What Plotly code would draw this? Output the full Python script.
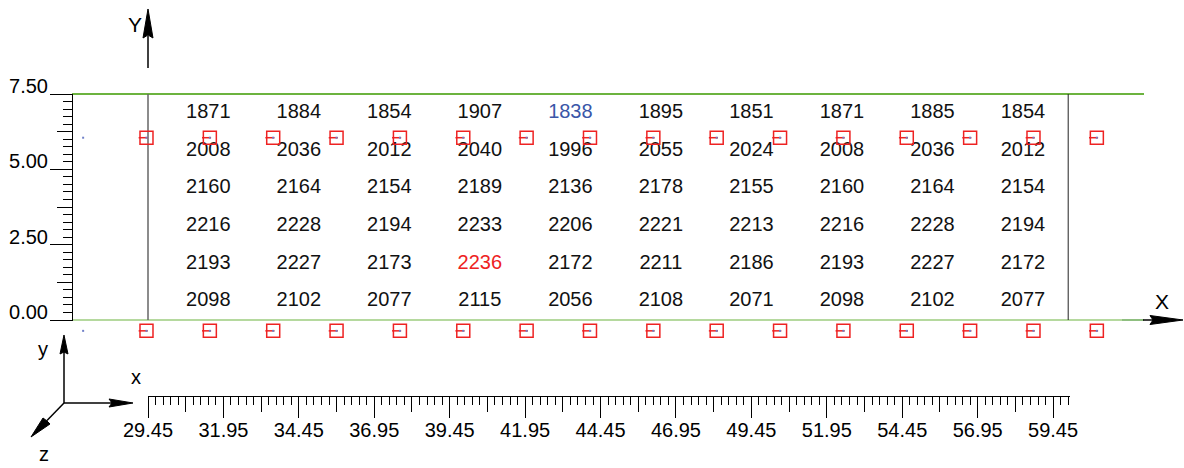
import numpy as np
import plotly.graph_objects as go

# ---------------- data ----------------
col_x = [31.45, 34.45, 37.45, 40.45, 43.45, 46.45, 49.45, 52.45, 55.45, 58.45]
row_y = [6.875, 5.625, 4.375, 3.125, 1.875, 0.625]
row_1 = [1871, 1884, 1854, 1907, 1838, 1895, 1851, 1871, 1885, 1854]
row_2 = [2008, 2036, 2012, 2040, 1996, 2055, 2024, 2008, 2036, 2012]
row_3 = [2160, 2164, 2154, 2189, 2136, 2178, 2155, 2160, 2164, 2154]
row_4 = [2216, 2228, 2194, 2233, 2206, 2221, 2213, 2216, 2228, 2194]
row_5 = [2193, 2227, 2173, 2236, 2172, 2211, 2186, 2193, 2227, 2172]
row_6 = [2098, 2102, 2077, 2115, 2056, 2108, 2071, 2098, 2102, 2077]
rows = [row_1, row_2, row_3, row_4, row_5, row_6]

marker_x = [29.4, 31.5, 33.6, 35.7, 37.8, 39.9, 42.0, 44.1, 46.2, 48.3,
            50.4, 52.5, 54.6, 56.7, 58.8, 60.9]
marker_y = [6.05, -0.36]
stray_dot_x = [27.3]

x_tick_vals = [29.45, 31.95, 34.45, 36.95, 39.45, 41.95, 44.45, 46.95,
               49.45, 51.95, 54.45, 56.95, 59.45]
x_tick_labels = ["29.45", "31.95", "34.45", "36.95", "39.45", "41.95", "44.45",
                 "46.95", "49.45", "51.95", "54.45", "56.95", "59.45"]
y_tick_vals = [0.0, 2.5, 5.0, 7.5]
y_tick_labels = ["0.00", "2.50", "5.00", "7.50"]
frame_x = [29.45, 59.95]
frame_y = [0.0, 7.5]

# ---------------- geometry ----------------
W, H = 1184, 468
SX, SY = 30.17, 30.13           # px per unit
X_REF_PX, X_REF = 148.0, 29.45  # pixel of x=29.45
Y_REF_PX = 320.0                # pixel of y=0
X0 = X_REF - X_REF_PX / SX
X1 = X0 + W / SX
Y_TOP = Y_REF_PX / SY
Y_BOT = -(H - Y_REF_PX) / SY


def px_x(px):
    return X0 + px / SX


def px_y(py):
    return (Y_REF_PX - py) / SY


def P(px, py):
    return f"{px / W:.5f},{1 - py / H:.5f}"


FONT = "Liberation Sans, Arial, sans-serif"
RED = "#ee2222"
GREEN = "#6cb33f"

fig = go.Figure()

# numbers
vals = np.array(rows)
vmin, vmax = vals.min(), vals.max()
tx, ty, tt, tc = [], [], [], []
for j, r in enumerate(rows):
    for i, v in enumerate(r):
        tx.append(col_x[i])
        ty.append(row_y[j])
        tt.append(str(v))
        tc.append("#3a56a8" if v == vmin else (RED if v == vmax else "#111111"))
fig.add_trace(go.Scatter(x=tx, y=ty, text=tt, mode="text",
                         textfont=dict(family=FONT, size=20, color=tc),
                         hoverinfo="skip", showlegend=False, cliponaxis=False))

# red boxes
bx = [x for yv in marker_y for x in marker_x]
by = [yv for yv in marker_y for x in marker_x]
fig.add_trace(go.Scatter(x=bx, y=by, mode="markers",
                         marker=dict(symbol="square-open", size=13,
                                     color=RED, line=dict(width=1.5, color=RED)),
                         hoverinfo="skip", showlegend=False))
dash_shift = 3.3 / SX
fig.add_trace(go.Scatter(x=[x - dash_shift for x in bx], y=by, mode="markers",
                         marker=dict(symbol="line-ew", size=6.5,
                                     line=dict(width=1.5, color=RED)),
                         hoverinfo="skip", showlegend=False))
dx = bx + [x for yv in marker_y for x in stray_dot_x]
dy = by + [yv for yv in marker_y for x in stray_dot_x]
fig.add_trace(go.Scatter(x=dx, y=dy, mode="markers",
                         marker=dict(symbol="square", size=2, color="#7080c8"),
                         hoverinfo="skip", showlegend=False))

# invisible traces to activate ruler axes
fig.add_trace(go.Scatter(x=[x_tick_vals[0]], y=[0], xaxis="x2", yaxis="y2",
                         mode="markers", marker=dict(size=1, opacity=0),
                         hoverinfo="skip", showlegend=False))
fig.add_trace(go.Scatter(x=[x_tick_vals[0]], y=[0], xaxis="x3", yaxis="y3",
                         mode="markers", marker=dict(size=1, opacity=0),
                         hoverinfo="skip", showlegend=False))

shapes = []
# green lines
shapes.append(dict(type="line", xref="x", yref="y", x0=px_x(72), x1=px_x(1144),
                   y0=frame_y[1], y1=frame_y[1], line=dict(color=GREEN, width=2),
                   layer="below"))
shapes.append(dict(type="line", xref="x", yref="y", x0=px_x(72), x1=px_x(1122),
                   y0=frame_y[0], y1=frame_y[0], line=dict(color=GREEN, width=1.2),
                   layer="below"))
shapes.append(dict(type="line", xref="x", yref="y", x0=px_x(1122), x1=px_x(1144),
                   y0=frame_y[0], y1=frame_y[0], line=dict(color="#8fbf80", width=2),
                   layer="below"))
# frame verticals
shapes.append(dict(type="line", xref="x", yref="y", x0=frame_x[0], x1=frame_x[0],
                   y0=frame_y[0], y1=frame_y[1], line=dict(color="#666666", width=1.5),
                   layer="below"))
shapes.append(dict(type="line", xref="x", yref="y", x0=frame_x[1], x1=frame_x[1],
                   y0=frame_y[0], y1=frame_y[1], line=dict(color="#222222", width=1),
                   layer="below"))

# big Y arrow
shapes.append(dict(type="line", xref="paper", yref="paper",
                   x0=148 / W, x1=148 / W, y0=1 - 68 / H, y1=1 - 36 / H,
                   line=dict(color="black", width=1.5)))
shapes.append(dict(type="path", xref="paper", yref="paper",
                   path=f"M {P(148, 9)} L {P(153, 38)} L {P(148, 35)} L {P(143, 38)} Z",
                   fillcolor="black", line=dict(color="black", width=1)))
# big X arrow
shapes.append(dict(type="line", xref="paper", yref="paper",
                   x0=1143 / W, x1=1155 / W, y0=1 - 320 / H, y1=1 - 320 / H,
                   line=dict(color="black", width=1.5)))
shapes.append(dict(type="path", xref="paper", yref="paper",
                   path=f"M {P(1183, 320)} L {P(1150, 315.5)} L {P(1153, 320)} L {P(1150, 324.5)} Z",
                   fillcolor="black", line=dict(color="black", width=1)))

# triad
O = (64, 403)
shapes.append(dict(type="line", xref="paper", yref="paper",
                   x0=O[0] / W, x1=O[0] / W, y0=1 - O[1] / H, y1=1 - 352 / H,
                   line=dict(color="black", width=1.5)))
shapes.append(dict(type="path", xref="paper", yref="paper",
                   path=f"M {P(64, 335)} L {P(68, 354)} L {P(64, 352)} L {P(60, 354)} Z",
                   fillcolor="black", line=dict(color="black", width=1)))
shapes.append(dict(type="line", xref="paper", yref="paper",
                   x0=O[0] / W, x1=112 / W, y0=1 - O[1] / H, y1=1 - O[1] / H,
                   line=dict(color="black", width=1.5)))
shapes.append(dict(type="path", xref="paper", yref="paper",
                   path=f"M {P(133, 403)} L {P(109, 399)} L {P(112, 403)} L {P(109, 407)} Z",
                   fillcolor="black", line=dict(color="black", width=1)))
shapes.append(dict(type="line", xref="paper", yref="paper",
                   x0=O[0] / W, x1=47 / W, y0=1 - O[1] / H, y1=1 - 420.5 / H,
                   line=dict(color="black", width=1.5)))
shapes.append(dict(type="path", xref="paper", yref="paper",
                   path=f"M {P(31, 437)} L {P(43, 418)} L {P(47, 421)} L {P(50, 424)} Z",
                   fillcolor="black", line=dict(color="black", width=1)))

annotations = []
for txt, px, py, sz in [("Y", 135, 24, 21), ("X", 1162, 301, 21),
                        ("y", 43, 349, 20), ("x", 136, 377, 20), ("z", 44, 454, 20)]:
    annotations.append(dict(text=txt, x=px / W, y=1 - py / H, xref="paper", yref="paper",
                            showarrow=False, xanchor="center", yanchor="middle",
                            font=dict(family=FONT, size=sz, color="black")))

# ruler ticks
x_minor = [round(X_REF + 0.25 * k, 4) for k in range(0, 123)]
x_medium = [round(X_REF + 1.25 + 2.5 * k, 4) for k in range(0, 12)]
y_minor = [round(0.25 * k, 4) for k in range(0, 31)]
y_medium = [round(1.25 + 2.5 * k, 4) for k in range(0, 3)]

xr_px = (147.5, 1069.5)
yr_px = (320.5, 93.5)
x_ruler_range = [px_x(xr_px[0]), px_x(xr_px[1])]
x_ruler_dom = [xr_px[0] / W, xr_px[1] / W]
y_ruler_range = [px_y(yr_px[0]), px_y(yr_px[1])]
y_ruler_dom = [1 - yr_px[0] / H, 1 - yr_px[1] / H]
x_ruler_pos = 1 - 396 / H
y_ruler_pos = 72 / W

tickfont = dict(family=FONT, size=20, color="black")
common = dict(automargin=False, showgrid=False, zeroline=False, fixedrange=True)

fig.update_layout(
    template="none",
    width=W, height=H, margin=dict(l=0, r=0, t=0, b=0, pad=0, autoexpand=False),
    paper_bgcolor="white", plot_bgcolor="rgba(0,0,0,0)",
    font=dict(family=FONT, color="black"),
    xaxis=dict(range=[X0, X1], visible=False, domain=[0, 1], **common),
    yaxis=dict(range=[Y_BOT, Y_TOP], visible=False, domain=[0, 1], **common),
    xaxis2=dict(range=x_ruler_range, domain=x_ruler_dom, anchor="free",
                position=x_ruler_pos, side="bottom",
                showline=True, linecolor="black", linewidth=1,
                ticks="outside", ticklen=21, tickwidth=1, tickcolor="black",
                tickmode="array", tickvals=x_tick_vals, ticktext=x_tick_labels,
                tickfont=tickfont, ticklabelstandoff=-5,
                minor=dict(tickmode="array", tickvals=x_minor, ticks="outside",
                           ticklen=8, tickwidth=1, tickcolor="black", showgrid=False),
                **common),
    xaxis3=dict(range=x_ruler_range, domain=x_ruler_dom, anchor="free",
                position=x_ruler_pos, side="bottom",
                showline=False, ticks="outside", ticklen=15, tickwidth=1,
                tickcolor="black", tickmode="array", tickvals=x_medium,
                showticklabels=False, **common),
    yaxis2=dict(range=y_ruler_range, domain=y_ruler_dom, anchor="free",
                position=y_ruler_pos, side="left",
                showline=True, linecolor="black", linewidth=1,
                ticks="outside", ticklen=22, tickwidth=1, tickcolor="black",
                tickmode="array", tickvals=y_tick_vals, ticktext=y_tick_labels,
                tickfont=tickfont, ticklabelshift=-8, ticklabelstandoff=-2,
                minor=dict(tickmode="array", tickvals=y_minor, ticks="outside",
                           ticklen=9, tickwidth=1, tickcolor="black", showgrid=False),
                **common),
    yaxis3=dict(range=y_ruler_range, domain=y_ruler_dom, anchor="free",
                position=y_ruler_pos, side="left",
                showline=False, ticks="outside", ticklen=15, tickwidth=1,
                tickcolor="black", tickmode="array", tickvals=y_medium,
                showticklabels=False, **common),
    shapes=shapes, annotations=annotations, showlegend=False,
)

fig.write_html(
    "out.html",
    config={"displayModeBar": False, "staticPlot": True},
    post_script="document.body.style.margin='0px';document.body.style.padding='0px';"
                "document.body.style.overflow='hidden';",
)
